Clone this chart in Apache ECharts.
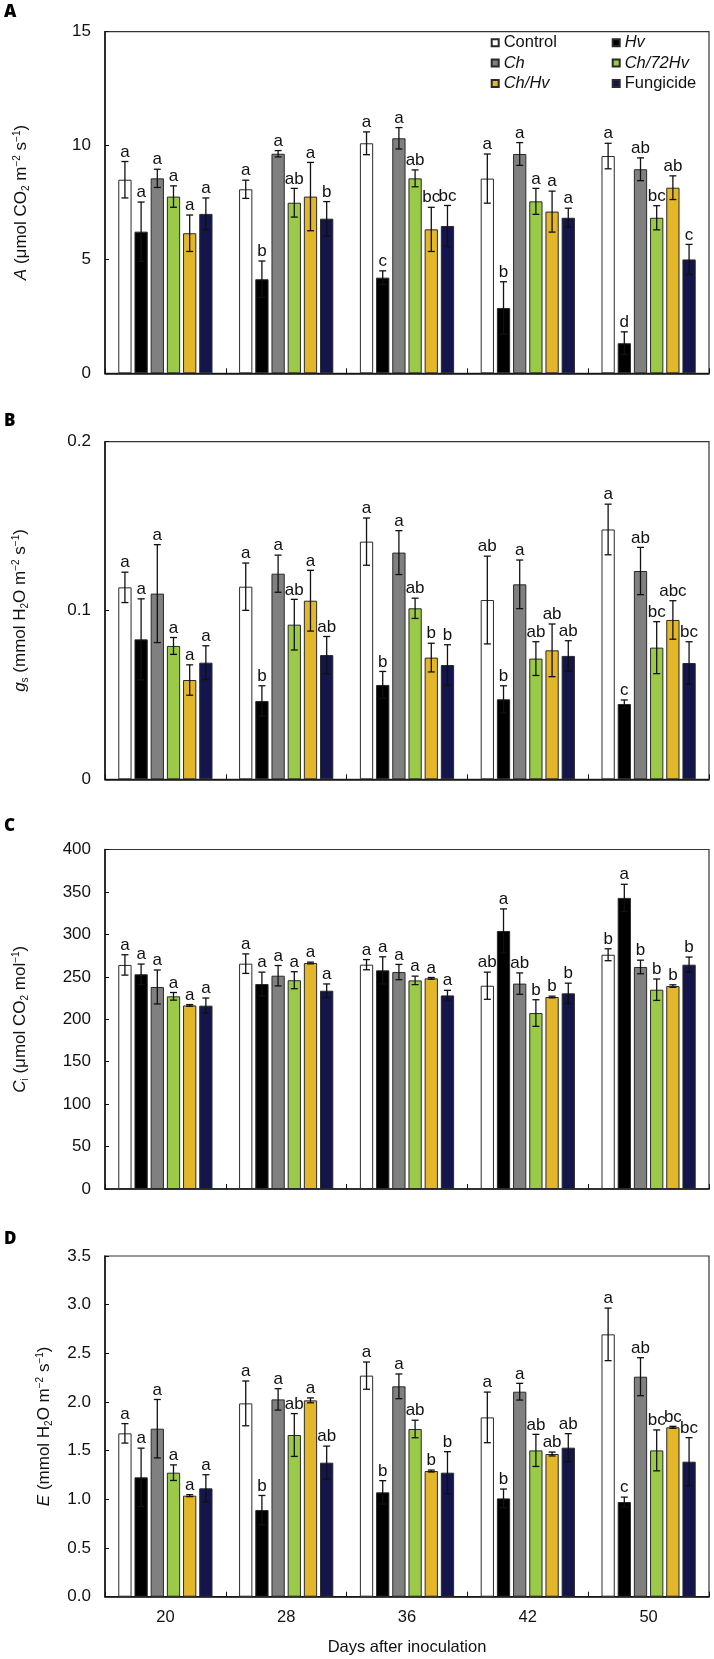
<!DOCTYPE html>
<html>
<head>
<meta charset="utf-8">
<script src="https://cdn.jsdelivr.net/npm/echarts@6/dist/echarts.min.js"></script>
<style>
html,body{margin:0;padding:0;background:#fff;}
#chart{width:714px;height:1659px;}
</style>
</head>
<body>
<div id="chart"></div>
<script>
// ---------- data ----------
const days = ['20', '28', '36', '42', '50'];
const treatments = ['Control', 'Hv', 'Ch', 'Ch/72Hv', 'Ch/Hv', 'Fungicide'];

// Panel A: net photosynthesis (rows = treatments, cols = days)
const A_mean = [
  [8.5, 8.08, 10.1, 8.55, 9.54],
  [6.22, 4.13, 4.2, 2.87, 1.32],
  [8.56, 9.64, 10.32, 9.63, 8.96],
  [7.76, 7.49, 8.56, 7.55, 6.83],
  [6.15, 7.76, 6.32, 7.1, 8.15],
  [7.0, 6.79, 6.47, 6.83, 5.0]
];
const A_err = [
  [0.8, 0.4, 0.5, 1.08, 0.56],
  [1.3, 0.8, 0.3, 1.15, 0.5],
  [0.4, 0.14, 0.47, 0.5, 0.5],
  [0.47, 0.63, 0.37, 0.57, 0.53],
  [0.8, 1.5, 0.97, 0.9, 0.52],
  [0.7, 0.75, 0.9, 0.42, 0.66]
];
const A_sig = [
  ['a', 'a', 'a', 'a', 'a'],
  ['a', 'b', 'c', 'b', 'd'],
  ['a', 'a', 'a', 'a', 'ab'],
  ['a', 'ab', 'ab', 'a', 'bc'],
  ['a', 'a', 'bc', 'a', 'ab'],
  ['a', 'b', 'bc', 'a', 'c']
];

// Panel B: stomatal conductance
const B_mean = [
  [0.1137, 0.1141, 0.1408, 0.1062, 0.148],
  [0.0829, 0.0464, 0.0559, 0.0474, 0.0446],
  [0.110, 0.1218, 0.1343, 0.1155, 0.1234],
  [0.079, 0.0916, 0.1013, 0.0715, 0.078],
  [0.0588, 0.1058, 0.0721, 0.0764, 0.0944],
  [0.0691, 0.0736, 0.0677, 0.0731, 0.0689]
];
const B_err = [
  [0.009, 0.014, 0.014, 0.026, 0.015],
  [0.024, 0.009, 0.008, 0.008, 0.0024],
  [0.029, 0.011, 0.013, 0.0144, 0.014],
  [0.005, 0.015, 0.006, 0.01, 0.0154],
  [0.009, 0.018, 0.0085, 0.0156, 0.0114],
  [0.01, 0.011, 0.012, 0.009, 0.0126]
];
const B_sig = [
  ['a', 'a', 'a', 'ab', 'a'],
  ['a', 'b', 'b', 'b', 'c'],
  ['a', 'a', 'a', 'a', 'ab'],
  ['a', 'ab', 'ab', 'ab', 'bc'],
  ['a', 'a', 'b', 'ab', 'abc'],
  ['a', 'ab', 'b', 'ab', 'bc']
];

// Panel C: intercellular CO2
const C_mean = [
  [264, 265.5, 264.3, 239.5, 276],
  [253, 241.5, 257.6, 304, 343],
  [238, 251.3, 255.6, 242, 261.6],
  [227, 246, 245.8, 207.3, 234.8],
  [216.3, 266.3, 248.2, 226.2, 239.1],
  [216, 233.6, 228.1, 230.5, 264.3]
];
const C_err = [
  [12, 11.5, 6, 16, 7],
  [12, 14, 16, 26, 16],
  [20, 12, 9, 12.6, 8],
  [4.5, 10, 5, 15.7, 12.6],
  [1, 1, 1, 1, 1.5],
  [9, 8, 6, 12, 9]
];
const C_sig = [
  ['a', 'a', 'a', 'ab', 'b'],
  ['a', 'a', 'a', 'a', 'a'],
  ['a', 'a', 'a', 'ab', 'b'],
  ['a', 'a', 'a', 'b', 'b'],
  ['a', 'a', 'a', 'b', 'b'],
  ['a', 'a', 'a', 'b', 'b']
];

// Panel D: transpiration
const D_mean = [
  [1.678, 1.986, 2.271, 1.842, 2.695],
  [1.226, 0.89, 1.072, 1.01, 0.973],
  [1.726, 2.027, 2.161, 2.106, 2.26],
  [1.274, 1.661, 1.723, 1.503, 1.503],
  [1.038, 2.017, 1.291, 1.466, 1.74],
  [1.113, 1.377, 1.274, 1.531, 1.387]
];
const D_err = [
  [0.1, 0.23, 0.14, 0.26, 0.27],
  [0.3, 0.15, 0.12, 0.096, 0.05],
  [0.3, 0.11, 0.127, 0.086, 0.195],
  [0.08, 0.22, 0.09, 0.165, 0.21],
  [0.01, 0.025, 0.01, 0.02, 0.01],
  [0.14, 0.17, 0.216, 0.144, 0.247]
];
const D_sig = [
  ['a', 'a', 'a', 'a', 'a'],
  ['a', 'b', 'b', 'b', 'c'],
  ['a', 'a', 'a', 'a', 'ab'],
  ['a', 'ab', 'ab', 'ab', 'bc'],
  ['a', 'a', 'b', 'ab', 'bc'],
  ['a', 'ab', 'b', 'ab', 'bc']
];

const yTicksA = [0, 15, 5];
const yTicksB = [0, 0.2, 0.1];
const yTicksC = [0, 400, 50];
const yTicksD = [0, 3.5, 0.5];

// ---------- style ----------
const FONT = 'Liberation Sans';
const colors = ['#ffffff', '#000000', '#808080', '#9aca48', '#e4b62a', '#13154b'];
const italicNames = new Set(['Hv', 'Ch', 'Ch/72Hv', 'Ch/Hv']);
const CAT_GAP = 0.22, BAR_GAP = 0.22;

const panels = [
  {mean: A_mean, err: A_err, sig: A_sig, ticks: yTicksA, top: 31.7, height: 341.6,
   name: '{i|A} (μmol CO{sub|2} m{sup|−2} s{sup|−1})', nameGap: 73, letter: 'A', ly: 13.5, fmt: v => String(v)},
  {mean: B_mean, err: B_err, sig: B_sig, ticks: yTicksB, top: 441.7, height: 337.6,
   name: '{i|g}{sub|s} (mmol H{sub|2}O m{sup|−2} s{sup|−1})', nameGap: 74, letter: 'B', ly: 422.5, fmt: v => String(v)},
  {mean: C_mean, err: C_err, sig: C_sig, ticks: yTicksC, top: 849.5, height: 339.5,
   name: '{i|C}{sub|i} (μmol CO{sub|2} mol{sup|−1})', nameGap: 74, letter: 'C', ly: 828, fmt: v => String(v)},
  {mean: D_mean, err: D_err, sig: D_sig, ticks: yTicksD, top: 1256, height: 340.7,
   name: '{i|E} (mmol H{sub|2}O m{sup|−2} s{sup|−1})', nameGap: 50, letter: 'D', ly: 1241, fmt: v => v.toFixed(1)}
];

const richName = {
  i: {fontStyle: 'italic', fontSize: 17, fontFamily: FONT, color: '#111', lineHeight: 22, verticalAlign: 'middle'},
  sub: {fontSize: 10, fontFamily: FONT, color: '#111', lineHeight: 22, verticalAlign: 'bottom', padding: [0, 0, 1, 0]},
  sup: {fontSize: 10, fontFamily: FONT, color: '#111', lineHeight: 22, verticalAlign: 'top', padding: [2, 0, 0, 0]}
};

const grid = [], xAxis = [], yAxis = [], series = [], graphic = [];

panels.forEach((p, pi) => {
  grid.push({left: 105, right: 5, top: p.top, height: p.height, show: true,
             borderColor: '#333', borderWidth: 1.2, backgroundColor: 'transparent'});
  const last = pi === panels.length - 1;
  xAxis.push({
    type: 'category', gridIndex: pi, data: days,
    axisLine: {show: true, lineStyle: {color: '#111', width: 1.5}},
    axisTick: {show: true, inside: true, length: 5, lineStyle: {color: '#111'}},
    axisLabel: {show: last, fontFamily: FONT, fontSize: 16.5, color: '#111', margin: 12},
    name: last ? 'Days after inoculation' : '',
    nameLocation: 'middle', nameGap: 42,
    nameTextStyle: {fontFamily: FONT, fontSize: 16.5, color: '#111'}
  });
  yAxis.push({
    type: 'value', gridIndex: pi, min: p.ticks[0], max: p.ticks[1], interval: p.ticks[2],
    splitLine: {show: false},
    axisLine: {show: true, lineStyle: {color: '#111', width: 1.5}},
    axisTick: {show: true, inside: true, length: 4, lineStyle: {color: '#111'}},
    axisLabel: {fontFamily: FONT, fontSize: 17, color: '#111', margin: 14, formatter: p.fmt},
    name: p.name, nameLocation: 'middle', nameRotate: 90, nameGap: p.nameGap,
    nameTextStyle: {fontFamily: FONT, fontSize: 17, color: '#111', lineHeight: 22, rich: richName}
  });
  graphic.push({type: 'text', left: 4, top: p.ly - 10,
    style: {text: p.letter, font: '800 17px "Open Sans"', fill: '#000'}});

  treatments.forEach((t, k) => {
    series.push({
      type: 'bar', name: t, xAxisIndex: pi, yAxisIndex: pi,
      data: p.mean[k],
      barGap: (BAR_GAP * 100) + '%', barCategoryGap: (CAT_GAP * 100) + '%',
      itemStyle: {color: colors[k], borderColor: '#2a2a2a', borderWidth: 1},
      emphasis: {disabled: true},
      z: 2
    });
  });
  treatments.forEach((t, k) => {
    const data = p.mean[k].map((v, i) => [i, v, p.err[k][i]]);
    const sig = p.sig[k];
    series.push({
      type: 'custom', name: t + ' err', xAxisIndex: pi, yAxisIndex: pi,
      data: data, z: 5, silent: true,
      renderItem: function (params, api) {
        const ci = api.value(0), v = api.value(1), e = api.value(2);
        const band = api.size([1, 0])[0];
        const bw = band * (1 - CAT_GAP) / (6 + 5 * BAR_GAP);
        const off = (k - 2.5) * bw * (1 + BAR_GAP);
        const pt = api.coord([ci, v + e]);
        const pb = api.coord([ci, Math.max(v - e, 0)]);
        const x = pt[0] + off;
        const cap = 3.5;
        const st = {stroke: '#111', lineWidth: 1.3};
        return {
          type: 'group',
          children: [
            {type: 'line', shape: {x1: x, y1: pt[1], x2: x, y2: pb[1]}, style: st},
            {type: 'line', shape: {x1: x - cap, y1: pt[1], x2: x + cap, y2: pt[1]}, style: st},
            {type: 'line', shape: {x1: x - cap, y1: pb[1], x2: x + cap, y2: pb[1]}, style: st},
            {type: 'text', x: x, y: pt[1] - 1,
             style: {text: sig[params.dataIndex], fill: '#111', font: '17px "' + FONT + '"',
                     align: 'center', verticalAlign: 'bottom',
                     textAlign: 'center', textVerticalAlign: 'bottom'}}
          ]
        };
      }
    });
  });
});

const legendCommon = {
  orient: 'vertical', padding: 0, itemGap: 3.3, itemWidth: 7, itemHeight: 7, icon: 'rect',
  selectedMode: false,
  formatter: n => italicNames.has(n) ? '{i|' + n + '}' : n,
  textStyle: {fontFamily: FONT, fontSize: 16.5, color: '#111', lineHeight: 16,
              rich: {i: {fontStyle: 'italic', fontFamily: FONT, fontSize: 16.5, color: '#111', lineHeight: 16}}}
};

const option = {
  animation: false,
  backgroundColor: '#fff',
  grid: grid, xAxis: xAxis, yAxis: yAxis, series: series, graphic: graphic,
  legend: [
    Object.assign({}, legendCommon, {left: 490.7, top: 34.3, data: ['Control', 'Ch', 'Ch/Hv']}),
    Object.assign({}, legendCommon, {left: 611.7, top: 34.3, data: ['Hv', 'Ch/72Hv', 'Fungicide']})
  ]
};

const chart = echarts.init(document.getElementById('chart'), null, {renderer: 'canvas'});
chart.setOption(option);
</script>
</body>
</html>
